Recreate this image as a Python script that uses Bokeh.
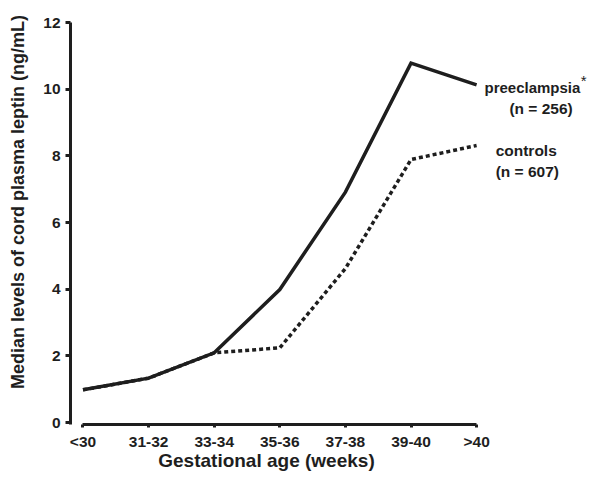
import math
from bokeh.plotting import figure
from bokeh.models import Range1d, Label, FixedTicker, LinearAxis
from bokeh.embed import file_html
from bokeh.resources import INLINE

categories = ["<30", "31-32", "33-34", "35-36", "37-38", "39-40", ">40"]
preeclampsia = [0.98, 1.33, 2.09, 3.99, 6.91, 10.78, 10.13]
controls = [0.98, 1.33, 2.09, 2.24, 4.62, 7.89, 8.31]
y_ticks = [0, 2, 4, 6, 8, 10, 12]

FONT = "Liberation Sans"
INK = "#1e1e1e"

x = list(range(len(categories)))

p = figure(width=587, height=471, output_backend="svg", toolbar_location=None,
           x_range=Range1d(-1.2576, 7.6905), y_range=Range1d(-1.47, 12.66),
           x_axis_location=None, y_axis_location=None,
           min_border=0, min_border_left=0, min_border_right=0,
           min_border_top=0, min_border_bottom=0)
p.outline_line_color = None
p.grid.visible = False
p.background_fill_color = "white"
p.border_fill_color = "white"

p.line(x, preeclampsia, line_color=INK, line_width=3.5, line_join="miter")
p.line(x, controls, line_color=INK, line_width=3.5, line_dash="4 3")

xaxis = LinearAxis(fixed_location=-0.06, bounds=(x[0], x[-1]),
                   ticker=FixedTicker(ticks=x),
                   major_label_overrides={i: c for i, c in zip(x, categories)},
                   major_tick_in=0, major_tick_out=3, major_label_standoff=5)
yaxis = LinearAxis(fixed_location=-0.19, bounds=(-0.06, y_ticks[-1]),
                   ticker=FixedTicker(ticks=y_ticks),
                   major_tick_in=0, major_tick_out=5, major_label_standoff=5)
for ax in (xaxis, yaxis):
    ax.axis_line_width = 3
    ax.axis_line_color = INK
    ax.major_tick_line_width = 3
    ax.major_tick_line_color = INK
    ax.minor_tick_line_color = None
    ax.major_label_text_font = FONT
    ax.major_label_text_font_style = "bold"
    ax.major_label_text_font_size = "15.5px"
    ax.major_label_text_color = INK
p.add_layout(xaxis, "below")
p.add_layout(yaxis, "left")

def lab(xv, yv, text, size, **kw):
    opts = dict(text_font=FONT, text_font_style="bold", text_font_size=size,
                text_color=INK)
    opts.update(kw)
    p.add_layout(Label(x=xv, y=yv, text=text, **opts))

lab(-0.998, 6.69, "Median levels of  cord plasma leptin (ng/mL)", "18px",
    angle=math.pi / 2, text_align="center", text_baseline="middle")
lab(2.797, -1.15, "Gestational age (weeks)", "19px",
    text_align="center", text_baseline="middle")

lab(6.12, 10.06, "preeclampsia", "15px", text_align="left", text_baseline="alphabetic")
lab(7.586, 10.25, "*", "15px", text_font_style="normal", text_align="left", text_baseline="middle")
lab(6.50, 9.43, "(n = 256)", "15.5px", text_align="left", text_baseline="alphabetic")
lab(6.29, 8.16, "controls", "15.5px", text_align="left", text_baseline="alphabetic")
lab(6.29, 7.54, "(n = 607)", "15.5px", text_align="left", text_baseline="alphabetic")

open("out.html", "w").write(file_html(p, INLINE))
